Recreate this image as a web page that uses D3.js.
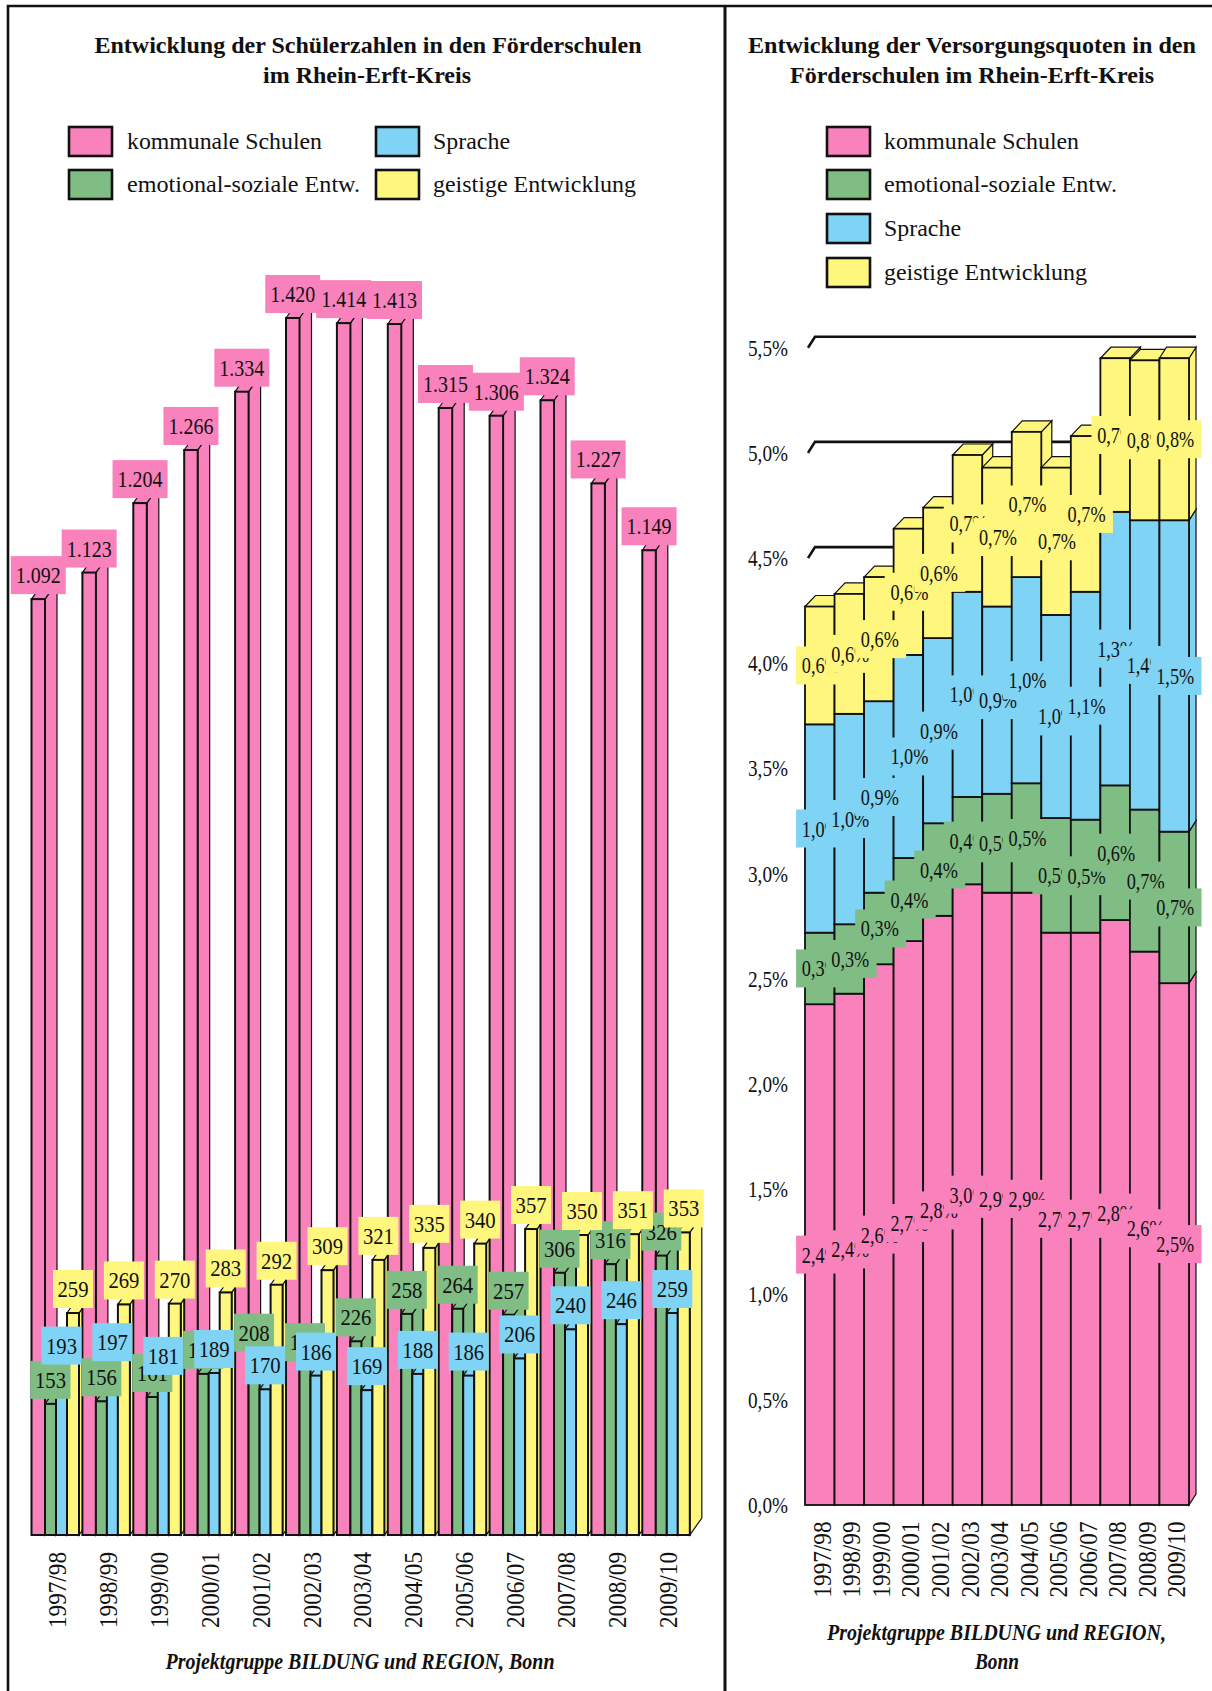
<!DOCTYPE html>
<html>
<head>
<meta charset="utf-8">
<script src="https://cdn.jsdelivr.net/npm/d3@7"></script>
<style>
  body { margin: 0; background: #fff; }
  text { font-family: "Liberation Serif", serif; fill: #111; }
</style>
</head>
<body>
<div id="chart"></div>
<script>
// Schuljahre
var years = ["1997/98", "1998/99", "1999/00", "2000/01", "2001/02", "2002/03", "2003/04", "2004/05", "2005/06", "2006/07", "2007/08", "2008/09", "2009/10"];

// Schuelerzahlen (linkes Diagramm)
var countKommunal = [1092, 1123, 1204, 1266, 1334, 1420, 1414, 1413, 1315, 1306, 1324, 1227, 1149];
var countEmotional = [153, 156, 161, 188, 208, 197, 226, 258, 264, 257, 306, 316, 326];
var countSprache = [193, 197, 181, 189, 170, 186, 169, 188, 186, 206, 240, 246, 259];
var countGeistig = [259, 269, 270, 283, 292, 309, 321, 335, 340, 357, 350, 351, 353];

// Versorgungsquoten in Prozent (rechtes Diagramm)
var quoteKommunal = [2.38, 2.43, 2.57, 2.68, 2.80, 2.95, 2.91, 2.91, 2.72, 2.72, 2.78, 2.63, 2.48];
var quoteEmotional = [0.34, 0.33, 0.34, 0.395, 0.44, 0.415, 0.47, 0.52, 0.545, 0.537, 0.64, 0.675, 0.72];
var quoteSprache = [0.99, 1.00, 0.91, 0.965, 0.88, 0.975, 0.89, 0.98, 0.965, 1.083, 1.30, 1.375, 1.48];
var quoteGeistig = [0.56, 0.57, 0.59, 0.60, 0.62, 0.65, 0.66, 0.69, 0.70, 0.74, 0.73, 0.76, 0.77];

var quoteTicks = [0, 0.5, 1, 1.5, 2, 2.5, 3, 3.5, 4, 4.5, 5, 5.5];

var seriesNames = ["kommunale Schulen", "emotional-soziale Entw.", "Sprache", "geistige Entwicklung"];
var colors = ["#F982BD", "#7FBD85", "#7FD4F5", "#FFF77D"];
var legendWidths = [195, 233, 77, 203];

var width = 1212, height = 1691;
var svg = d3.select("#chart").append("svg").attr("width", width).attr("height", height).style("display", "block");
var dark = "#111";
var germanNum = d3.format(",");

// Text, auf gemessene Breite gezogen
function label(g, str, x, y, size, len, opts) {
  opts = opts || {};
  return g.append("text").attr("x", x).attr("y", y).attr("font-size", size)
    .attr("text-anchor", opts.anchor || "middle")
    .attr("font-weight", opts.bold ? "bold" : null)
    .attr("font-style", opts.italic ? "italic" : null)
    .attr("textLength", len).attr("lengthAdjust", "spacingAndGlyphs")
    .text(str);
}

// Saeule mit Seite und Deckel
function column(g, x, w, yTop, yBottom, dx, dy, color, sw) {
  g.append("path").attr("fill", color).attr("stroke", dark).attr("stroke-width", 1.2)
    .attr("d", "M" + (x + w) + "," + yTop + "l" + dx + "," + (-dy) + "V" + (yBottom - dy) + "l" + (-dx) + "," + dy + "Z");
  g.append("path").attr("fill", color).attr("stroke", dark).attr("stroke-width", 1.2)
    .attr("d", "M" + x + "," + yTop + "l" + dx + "," + (-dy) + "h" + w + "l" + (-dx) + "," + dy + "Z");
  g.append("rect").attr("x", x).attr("y", yTop).attr("width", w).attr("height", yBottom - yTop)
    .attr("fill", color).attr("stroke", dark).attr("stroke-width", sw);
}

function valueBox(g, str, boxCx, textCx, cy, boxW, textW, color) {
  g.append("rect").attr("x", boxCx - boxW / 2).attr("y", cy - 19).attr("width", boxW).attr("height", 38).attr("fill", color);
  label(g, str, textCx, cy + 8, 24, textW);
}

function legendItem(g, idx, xBox, yBox, xText) {
  g.append("rect").attr("x", xBox).attr("y", yBox).attr("width", 43).attr("height", 29)
    .attr("fill", colors[idx]).attr("stroke", dark).attr("stroke-width", 2.6);
  label(g, seriesNames[idx], xText, yBox + 22, 24, legendWidths[idx], { anchor: "start" });
}

// Rahmen
svg.append("path").attr("fill", "none").attr("stroke", dark).attr("stroke-width", 2.6)
  .attr("d", d3.line()([[8, height], [8, 6], [width, 6]]));
svg.append("path").attr("fill", "none").attr("stroke", dark).attr("stroke-width", 3)
  .attr("d", d3.line()([[725, 6], [725, height]]));

// ---------- linkes Diagramm ----------
var left = svg.append("g");
label(left, "Entwicklung der Schülerzahlen in den Förderschulen", 368, 53, 24, 547, { bold: true });
label(left, "im Rhein-Erft-Kreis", 367, 83, 24, 208, { bold: true });
legendItem(left, 0, 69, 127, 127);
legendItem(left, 1, 69, 170, 127);
legendItem(left, 2, 376, 127, 433);
legendItem(left, 3, 376, 170, 433);

var countSeries = [countKommunal, countEmotional, countSprache, countGeistig];
var xGroup = d3.scaleBand().domain(years).range([31.5, 31.5 + 13 * 50.9]);
var yCount = d3.scaleLinear().domain([0, 1420]).range([1535, 318]);
var barEdges = [0, 13.5, 24.5, 35.5, 47.5]; // Kanten innerhalb einer Gruppe

var leftBars = left.append("g");
years.forEach(function (year, i) {
  countSeries.forEach(function (values, s) {
    column(leftBars, xGroup(year) + barEdges[s], barEdges[s + 1] - barEdges[s], yCount(values[i]), yCount(0), 12, 17, colors[s], 2);
  });
});
var leftLabels = left.append("g");
countSeries.forEach(function (values, s) {
  years.forEach(function (year, i) {
    var cx = xGroup(year) + (barEdges[s] + barEdges[s + 1]) / 2;
    var big = values[i] >= 1000;
    valueBox(leftLabels, germanNum(values[i]).replace(",", "."), cx, cx, yCount(values[i]) - 24, big ? 55 : 40, big ? 45 : 31, colors[s]);
  });
});

var xAxisLeft = left.append("g").attr("transform", "translate(0,1552)")
  .call(d3.axisBottom(xGroup).tickSize(0));
xAxisLeft.select(".domain").remove();
xAxisLeft.selectAll("text").attr("transform", "rotate(-90)").attr("x", 0).attr("y", 0).attr("dy", "0.35em")
  .attr("text-anchor", "end").attr("font-size", 26).attr("font-family", null)
  .attr("textLength", 76).attr("lengthAdjust", "spacingAndGlyphs");
xAxisLeft.attr("font-family", null).attr("font-size", null);

label(left, "Projektgruppe BILDUNG und REGION, Bonn", 360, 1669, 23, 389, { bold: true, italic: true });

// ---------- rechtes Diagramm ----------
var right = svg.append("g");
label(right, "Entwicklung der Versorgungsquoten in den", 972, 53, 24, 448, { bold: true });
label(right, "Förderschulen im Rhein-Erft-Kreis", 972, 83, 24, 364, { bold: true });
legendItem(right, 0, 827, 127, 884);
legendItem(right, 1, 827, 170, 884);
legendItem(right, 2, 827, 214, 884);
legendItem(right, 3, 827, 258, 884);

var quoteSeries = [quoteKommunal, quoteEmotional, quoteSprache, quoteGeistig];
var quoteRows = years.map(function (y, i) {
  return { year: y, a: quoteSeries[0][i], b: quoteSeries[1][i], c: quoteSeries[2][i], d: quoteSeries[3][i] };
});
var stacked = d3.stack().keys(["a", "b", "c", "d"])(quoteRows);

var xQuote = d3.scaleBand().domain(years).range([805, 1189]);
var yQuote = d3.scaleLinear().domain([0, 5.5]).range([1505, 347.7]);

// Gitterlinien hinten, Markierung schraeg
quoteTicks.forEach(function (t) {
  right.append("path").attr("fill", "none").attr("stroke", dark).attr("stroke-width", 2.6)
    .attr("d", d3.line()([[808, yQuote(t)], [815, yQuote(t) - 11], [1196, yQuote(t) - 11]]));
});

var rightBars = right.append("g");
years.forEach(function (year, i) {
  var dx = i === years.length - 1 ? 7 : 10.5;
  stacked.forEach(function (layer, s) {
    column(rightBars, xQuote(year), xQuote.bandwidth(), yQuote(layer[i][1]), yQuote(layer[i][0]), dx, 11, colors[s], 1.8);
  });
});

var rightLabels = right.append("g");
stacked.forEach(function (layer, s) {
  years.forEach(function (year, i) {
    var shown = d3.format(".1f")(quoteSeries[s][i]).replace(".", ",") + "%";
    var cx = xQuote(year) + xQuote.bandwidth() / 2;
    valueBox(rightLabels, shown, cx + 1.8, cx + 1, yQuote((layer[i][0] + layer[i][1]) / 2), 51, 38, colors[s]);
  });
});

var yAxisRight = right.append("g").attr("transform", "translate(788,0)")
  .call(d3.axisLeft(yQuote).tickValues(quoteTicks).tickSize(0).tickPadding(0)
    .tickFormat(function (d) { return d3.format(".1f")(d).replace(".", ",") + "%"; }));
yAxisRight.select(".domain").remove();
yAxisRight.attr("font-family", null).attr("font-size", null);
yAxisRight.selectAll("text").attr("font-size", 23).attr("textLength", 40).attr("lengthAdjust", "spacingAndGlyphs");

var xAxisRight = right.append("g").attr("transform", "translate(2,1521.5)")
  .call(d3.axisBottom(xQuote).tickSize(0));
xAxisRight.select(".domain").remove();
xAxisRight.attr("font-family", null).attr("font-size", null);
xAxisRight.selectAll("text").attr("transform", "rotate(-90)").attr("x", 0).attr("y", 0).attr("dy", "0.35em")
  .attr("text-anchor", "end").attr("font-size", 26)
  .attr("textLength", 76).attr("lengthAdjust", "spacingAndGlyphs");

label(right, "Projektgruppe BILDUNG und REGION,", 996.5, 1640, 23, 339, { bold: true, italic: true });
label(right, "Bonn", 997, 1669, 23, 44, { bold: true, italic: true });
</script>
</body>
</html>
